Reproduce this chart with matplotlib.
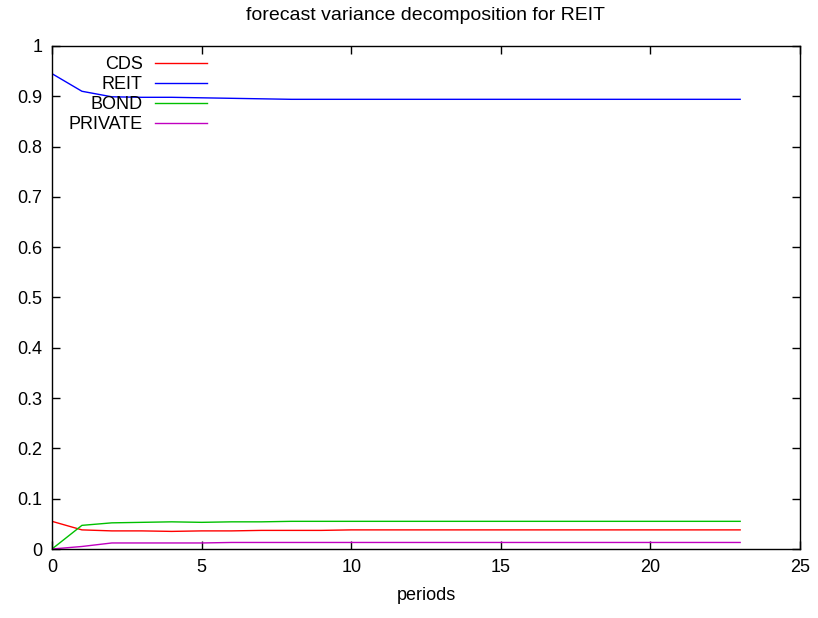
import matplotlib
matplotlib.use('Agg')
import matplotlib.pyplot as plt
import numpy as np

plt.rcParams['font.family'] = ['Liberation Sans', 'DejaVu Sans']

periods = np.arange(24)

cds = [0.055, 0.038, 0.036, 0.036, 0.035, 0.036, 0.036, 0.037, 0.037, 0.037,
       0.038, 0.038, 0.038, 0.038, 0.038, 0.038, 0.038, 0.038, 0.038, 0.038,
       0.038, 0.038, 0.038, 0.038]
reit = [0.945, 0.910, 0.899, 0.898, 0.898, 0.897, 0.896, 0.895, 0.894, 0.894,
        0.894, 0.894, 0.894, 0.894, 0.894, 0.894, 0.894, 0.894, 0.894, 0.894,
        0.894, 0.894, 0.894, 0.894]
bond = [0.000, 0.047, 0.052, 0.053, 0.054, 0.053, 0.054, 0.054, 0.055, 0.055,
        0.055, 0.055, 0.055, 0.055, 0.055, 0.055, 0.055, 0.055, 0.055, 0.055,
        0.055, 0.055, 0.055, 0.055]
private = [0.000, 0.005, 0.012, 0.012, 0.012, 0.012, 0.013, 0.013, 0.013, 0.013,
           0.013, 0.013, 0.013, 0.013, 0.013, 0.013, 0.013, 0.013, 0.013, 0.013,
           0.013, 0.013, 0.013, 0.013]

series = [('CDS', cds, '#ff0000'),
          ('REIT', reit, '#0000ff'),
          ('BOND', bond, '#00c000'),
          ('PRIVATE', private, '#c000c0')]

fig = plt.figure(figsize=(8.18, 6.18), dpi=100)
ax = fig.add_axes([52/818, 69/618, 748/818, 503/618])

for name, vals, col in series:
    ax.plot(periods, vals, color=col, lw=1.0, label=name)

ax.set_xlim(0, 25)
ax.set_ylim(0, 1)
ax.set_xticks(np.arange(0, 26, 5))
ax.set_yticks(np.arange(0, 1.01, 0.1))
ax.set_yticklabels(['0', '0.1', '0.2', '0.3', '0.4', '0.5', '0.6', '0.7', '0.8', '0.9', '1'])
ax.tick_params(direction='in', length=6, width=1, top=True, right=True,
               labelsize=13, pad=7)
for s in ax.spines.values():
    s.set_linewidth(1.0)

ax.set_title('forecast variance decomposition for REIT', fontsize=14, pad=19)
ax.set_xlabel('periods', fontsize=13, labelpad=8)

ax.legend(loc='upper right', bbox_to_anchor=(207/818, 1 - 56/618),
          bbox_transform=fig.transFigure, frameon=False, markerfirst=False,
          fontsize=13, borderpad=0, borderaxespad=0, labelspacing=0.17,
          handlelength=2.9, handletextpad=0.67)

fig.savefig('out.png', dpi=100)
